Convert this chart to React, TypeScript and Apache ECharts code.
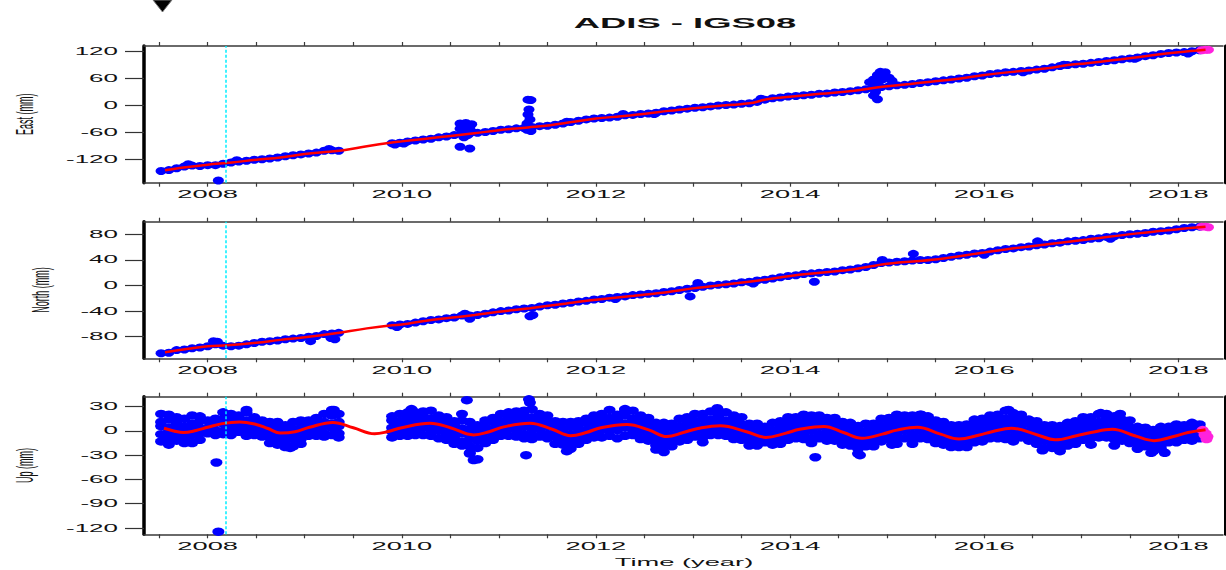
import React, { useEffect, useRef } from "react";
import * as echarts from "echarts";

const chartTitle = "ADIS - IGS08";
const xAxisName = "Time (year)";
const panelNames = ["East (mm)", "North (mm)", "Up (mm)"];

const yearTicks = [2007.5, 2008, 2008.5, 2009, 2009.5, 2010, 2010.5, 2011, 2011.5, 2012, 2012.5, 2013, 2013.5, 2014, 2014.5, 2015, 2015.5, 2016, 2016.5, 2017, 2017.5, 2018];
const yearLabels = [2008, 2010, 2012, 2014, 2016, 2018];
const eastTicks = [-120, -60, 0, 60, 120];
const northTicks = [-80, -40, 0, 40, 80];
const upTicks = [-120, -90, -60, -30, 0, 30];
const breakEpochs = [2008.19];

// East observations [year, mm]
const eastObs = [
  [2007.52, -146], [2007.60, -144], [2007.68, -140], [2007.76, -136], [2007.84, -134], [2007.92, -135],
  [2008.00, -133], [2008.08, -133], [2008.16, -130], [2008.24, -127], [2008.32, -125], [2008.40, -123],
  [2008.48, -121], [2008.56, -120], [2008.64, -118], [2008.72, -116], [2008.80, -113], [2008.88, -111],
  [2008.96, -109], [2009.04, -107], [2009.12, -105], [2009.20, -101], [2009.28, -100], [2009.35, -101],
  [2009.90, -84], [2009.98, -83], [2010.06, -80], [2010.14, -78], [2010.22, -76], [2010.30, -74],
  [2010.38, -71], [2010.46, -69], [2010.54, -66], [2010.62, -64], [2010.70, -62], [2010.78, -61],
  [2010.86, -59], [2010.94, -57], [2011.02, -54], [2011.10, -53], [2011.18, -51], [2011.26, -50],
  [2011.34, -48], [2011.42, -46], [2011.50, -45], [2011.58, -43], [2011.66, -40], [2011.74, -37],
  [2011.82, -34], [2011.90, -31], [2011.98, -29], [2012.06, -28], [2012.14, -27], [2012.22, -25],
  [2012.30, -22], [2012.38, -21], [2012.46, -19], [2012.54, -18], [2012.62, -16], [2012.70, -13],
  [2012.78, -11], [2012.86, -9], [2012.94, -7], [2013.02, -5], [2013.10, -4], [2013.18, -2],
  [2013.26, 0], [2013.34, 1], [2013.42, 2], [2013.50, 4], [2013.58, 5], [2013.66, 8],
  [2013.74, 13], [2013.82, 16], [2013.90, 18], [2013.98, 20], [2014.06, 21], [2014.14, 23],
  [2014.22, 24], [2014.30, 26], [2014.38, 27], [2014.46, 29], [2014.54, 30], [2014.62, 32],
  [2014.70, 34], [2014.78, 36], [2014.86, 39], [2014.94, 41], [2015.02, 43], [2015.10, 45],
  [2015.18, 46], [2015.26, 48], [2015.34, 50], [2015.42, 52], [2015.50, 54], [2015.58, 56],
  [2015.66, 58], [2015.74, 60], [2015.82, 62], [2015.90, 65], [2015.98, 67], [2016.06, 70],
  [2016.14, 72], [2016.22, 74], [2016.30, 75], [2016.38, 77], [2016.46, 78], [2016.54, 80],
  [2016.62, 82], [2016.70, 85], [2016.78, 88], [2016.86, 90], [2016.94, 92], [2017.02, 93],
  [2017.10, 95], [2017.18, 97], [2017.26, 99], [2017.34, 101], [2017.42, 103], [2017.50, 105],
  [2017.58, 107], [2017.66, 110], [2017.74, 112], [2017.82, 115], [2017.90, 117], [2017.98, 118],
  [2018.06, 119], [2018.14, 121], [2018.22, 123]
];
const eastOutliers = [
  [2008.11, -167], [2007.80, -131], [2008.30, -122], [2009.25, -97], [2009.93, -87], [2010.02, -85],
  [2010.60, -40], [2010.66, -39], [2010.72, -42], [2010.62, -46], [2010.70, -48], [2010.60, -52],
  [2010.66, -55], [2010.72, -58], [2010.62, -62], [2010.68, -66], [2010.64, -71], [2010.60, -92],
  [2010.70, -96],
  [2011.30, 13], [2011.33, 12], [2011.31, -9], [2011.30, -20], [2011.32, -31], [2011.29, -40],
  [2011.33, -57], [2011.29, -54], [2011.70, -36], [2012.28, -19], [2012.60, -19], [2013.70, 15],
  [2014.93, 75], [2014.98, 74], [2014.90, 68], [2014.97, 66], [2015.02, 62], [2014.86, 58],
  [2014.95, 58], [2015.05, 55], [2014.82, 52], [2014.90, 50], [2014.88, 30], [2014.86, 22], [2014.90, 14],
  [2016.40, 74], [2016.82, 91], [2017.55, 104], [2018.10, 116]
];
const eastEnd = [[2018.24, 123], [2018.28, 124], [2018.31, 124]];
const eastModel = [
  [2007.56, -144.5], [2007.75, -138], [2008.00, -132], [2008.25, -127], [2008.50, -121], [2008.75, -116],
  [2009.00, -108], [2009.25, -103], [2009.40, -100], [2009.64, -91], [2009.88, -83], [2010.00, -80],
  [2010.25, -74], [2010.50, -68], [2010.75, -62], [2011.00, -55], [2011.30, -49], [2011.53, -44],
  [2011.75, -37], [2012.00, -29], [2012.26, -24], [2012.51, -18.5], [2012.75, -12], [2013.01, -6],
  [2013.25, -1], [2013.49, 3], [2013.62, 6], [2013.76, 14], [2014.00, 19.5], [2014.31, 26],
  [2014.66, 33], [2014.91, 40.5], [2015.24, 48], [2015.45, 53], [2015.69, 58.5], [2016.00, 68],
  [2016.38, 77], [2016.65, 83], [2016.86, 90], [2017.06, 94], [2017.41, 103], [2017.75, 112.5],
  [2018.00, 118.5], [2018.28, 124]
];

// North observations [year, mm]
const northObs = [
  [2007.52, -106], [2007.60, -105], [2007.68, -101], [2007.76, -100], [2007.84, -98], [2007.92, -97],
  [2008.00, -95], [2008.08, -92], [2008.16, -94], [2008.24, -95], [2008.32, -94], [2008.40, -92],
  [2008.48, -90], [2008.56, -88], [2008.64, -87], [2008.72, -86], [2008.80, -84], [2008.88, -83],
  [2008.96, -82], [2009.04, -80], [2009.12, -79], [2009.20, -76], [2009.28, -75], [2009.35, -74],
  [2009.90, -62], [2009.98, -61], [2010.06, -60], [2010.14, -58], [2010.22, -56], [2010.30, -54],
  [2010.38, -53], [2010.46, -51], [2010.54, -50], [2010.62, -47], [2010.70, -47], [2010.78, -46],
  [2010.86, -44], [2010.94, -42], [2011.02, -40], [2011.10, -39], [2011.18, -37], [2011.26, -36],
  [2011.34, -35], [2011.42, -33], [2011.50, -31], [2011.58, -30], [2011.66, -28], [2011.74, -27],
  [2011.82, -25], [2011.90, -24], [2011.98, -22], [2012.06, -21], [2012.14, -19], [2012.22, -18],
  [2012.30, -17], [2012.38, -15], [2012.46, -14], [2012.54, -13], [2012.62, -12], [2012.70, -10],
  [2012.78, -9], [2012.86, -7], [2012.94, -5], [2013.02, -4], [2013.10, -2], [2013.18, 0],
  [2013.26, 1], [2013.34, 2], [2013.42, 3], [2013.50, 5], [2013.58, 6], [2013.66, 8],
  [2013.74, 9], [2013.82, 11], [2013.90, 13], [2013.98, 15], [2014.06, 16], [2014.14, 18],
  [2014.22, 19], [2014.30, 20], [2014.38, 21], [2014.46, 22], [2014.54, 24], [2014.62, 25],
  [2014.70, 27], [2014.78, 29], [2014.86, 32], [2014.94, 35], [2015.02, 36], [2015.10, 37],
  [2015.18, 38], [2015.26, 39], [2015.34, 40], [2015.42, 40], [2015.50, 41], [2015.58, 43],
  [2015.66, 45], [2015.74, 47], [2015.82, 48], [2015.90, 50], [2015.98, 51], [2016.06, 53],
  [2016.14, 55], [2016.22, 57], [2016.30, 58], [2016.38, 60], [2016.46, 61], [2016.54, 63],
  [2016.62, 64], [2016.70, 66], [2016.78, 67], [2016.86, 69], [2016.94, 70], [2017.02, 71],
  [2017.10, 73], [2017.18, 74], [2017.26, 76], [2017.34, 77], [2017.42, 79], [2017.50, 80],
  [2017.58, 81], [2017.66, 82], [2017.74, 84], [2017.82, 85], [2017.90, 86], [2017.98, 88],
  [2018.06, 90], [2018.14, 91], [2018.22, 92]
];
const northOutliers = [
  [2008.06, -87], [2008.10, -88], [2009.06, -87], [2009.27, -82], [2009.31, -84], [2009.95, -65],
  [2010.65, -44], [2010.70, -52], [2011.32, -48], [2011.35, -46], [2012.97, -17], [2013.05, 4],
  [2014.25, 6], [2014.95, 40], [2015.27, 49.5], [2016.55, 69], [2012.20, -21], [2013.62, 3],
  [2016.00, 48], [2017.30, 73]
];
const northEnd = [[2018.24, 92], [2018.28, 92], [2018.31, 91]];
const northModel = [
  [2007.56, -104.5], [2007.80, -99], [2008.00, -95], [2008.20, -93.5], [2008.50, -89.5], [2008.75, -85],
  [2009.00, -81], [2009.30, -75], [2009.64, -67], [2009.90, -62], [2010.00, -61], [2010.25, -55],
  [2010.50, -50.5], [2010.75, -46], [2011.00, -41], [2011.32, -35.5], [2011.70, -28], [2012.00, -22.4],
  [2012.39, -16], [2012.73, -10.4], [2013.00, -4.5], [2013.42, 3], [2013.76, 9.5], [2014.00, 15],
  [2014.31, 20], [2014.66, 25.5], [2015.00, 34], [2015.52, 41], [2016.00, 51.6], [2016.38, 59.5],
  [2017.06, 72], [2017.58, 81.5], [2018.00, 88], [2018.28, 92]
];

// Up observations: [year, values...] (several daily solutions grouped per epoch)
const upObs = [
  [2007.52, 21, 11, 6, -4, -13], [2007.60, 20, 14, 4, -1, -9, -17], [2007.68, 17, 9, 3, -7, -12],
  [2007.76, 15, 5, -1, -10, -15], [2007.84, 19, 9, 3, -5, -15], [2007.92, 18, 12, 3, -3, -11],
  [2008.00, 13, 4, -3], [2008.08, 15, 10, 1, -5], [2008.16, 23, 14, 9, 0, -4],
  [2008.24, 21, 16, 7, 2, -5], [2008.32, 19, 12, 7, -1], [2008.40, 23, 13, 8, 1, -6],
  [2008.48, 17, 8, 3, -5], [2008.56, 13, 8, -1, -7], [2008.64, 11, 6, -3, -8, -15],
  [2008.72, 11, 2, -3, -12, -17], [2008.80, 7, 2, -7, -12, -20], [2008.88, 11, 2, -5, -10, -19],
  [2008.96, 13, 4, -1, -10, -16], [2009.04, 13, 8, -1, -6], [2009.12, 16, 7, 2, -6],
  [2009.20, 21, 11, 6, -3, -7], [2009.28, 26, 19, 9, 4, -5], [2009.35, 21, 11, 6, -3, -8],
  [2009.90, 18, 13, 4, -1, -8], [2009.98, 21, 12, 7, -2, -6], [2010.06, 23, 17, 8, 3, -6],
  [2010.14, 23, 14, 9, 0, -5], [2010.22, 24, 18, 9, 4, -5], [2010.30, 25, 15, 10, 1, -6],
  [2010.38, 19, 14, 5, 0, -9], [2010.46, 17, 8, 3, -6, -11], [2010.54, 12, 7, -2, -7, -16],
  [2010.62, 21, 13, 3, -3, -13, -18], [2010.70, 11, 2, -5, -10, -19, -27], [2010.78, 7, 2, -7, -12, -21, -35],
  [2010.86, 13, 4, -1, -10, -15], [2010.94, 16, 11, 2, -3, -11], [2011.02, 21, 12, 7, -2, -6],
  [2011.10, 23, 17, 8, 3, -6], [2011.18, 24, 15, 10, 1, -7], [2011.26, 25, 19, 10, 5, -4, -9],
  [2011.34, 27, 17, 12, 3, -5, -10], [2011.42, 21, 16, 7, 2, -7], [2011.50, 19, 10, 5, -4, -9],
  [2011.58, 12, 7, -2, -7, -16], [2011.66, 11, 2, -3, -12, -17], [2011.74, 11, 5, -4, -9, -18, -22],
  [2011.82, 12, 3, -2, -11, -16], [2011.90, 15, 10, 1, -6, -11], [2011.98, 19, 10, 5, -4, -8],
  [2012.06, 21, 15, 6, 1, -8], [2012.14, 26, 16, 11, 2, -6], [2012.22, 20, 15, 6, 1, -9],
  [2012.30, 26, 19, 9, 4, -6], [2012.38, 25, 15, 10, 1, -5], [2012.46, 19, 13, 4, -1, -10],
  [2012.54, 16, 7, 2, -7, -12], [2012.62, 10, 5, -4, -9, -18, -23], [2012.70, 10, 1, -4, -13, -18, -26],
  [2012.78, 9, 4, -5, -10, -19], [2012.86, 15, 6, 1, -8, -13], [2012.94, 17, 12, 3, -4, -11],
  [2013.02, 21, 12, 7, -2, -7], [2013.10, 21, 15, 6, 1, -8], [2013.18, 24, 14, 9, 0, -5],
  [2013.26, 25, 18, 9, 4, -5], [2013.34, 23, 13, 8, -1, -6], [2013.42, 19, 13, 4, -1, -10],
  [2013.50, 17, 8, 3, -6, -11], [2013.58, 9, 4, -5, -10, -18], [2013.66, 9, 0, -5, -14, -18],
  [2013.74, 5, 0, -9, -14], [2013.82, 10, 1, -4, -13, -17], [2013.90, 12, 7, -2, -7, -16],
  [2013.98, 17, 8, 3, -6, -11], [2014.06, 17, 12, 3, -4, -9], [2014.14, 20, 11, 6, -3, -10],
  [2014.22, 19, 14, 5, 0, -9, -15], [2014.30, 19, 10, 5, -4, -9], [2014.38, 16, 11, 2, -3, -12],
  [2014.46, 16, 7, 2, -7, -12], [2014.54, 11, 6, -3, -8, -17], [2014.62, 10, 1, -4, -13, -18],
  [2014.70, 6, 1, -8, -13, -22, -28], [2014.78, 9, 0, -5, -14, -19], [2014.86, 9, 4, -5, -10, -19],
  [2014.94, 15, 6, 1, -8, -13], [2015.02, 16, 11, 2, -5, -10], [2015.10, 20, 11, 6, -3, -8, -16],
  [2015.18, 19, 14, 5, 0, -9], [2015.26, 19, 10, 5, -4, -9, -16], [2015.34, 20, 14, 5, 0, -9],
  [2015.42, 18, 9, 4, -5, -10], [2015.50, 13, 8, -1, -6, -15], [2015.58, 11, 2, -3, -12, -17],
  [2015.66, 7, 2, -7, -12, -20], [2015.74, 7, -2, -7, -16, -20], [2015.82, 8, 3, -6, -11, -20],
  [2015.90, 14, 5, 0, -9, -14], [2015.98, 15, 10, 1, -6, -13], [2016.06, 19, 10, 5, -4, -9],
  [2016.14, 20, 14, 5, 0, -9], [2016.22, 25, 15, 10, 1, -6, -10], [2016.30, 22, 16, 7, 2, -7, -13],
  [2016.38, 20, 11, 6, -3, -8], [2016.46, 14, 9, 0, -7, -12], [2016.54, 12, 3, -2, -11, -16],
  [2016.62, 7, 2, -7, -12, -21], [2016.70, 7, -2, -7, -16, -21], [2016.78, 6, 1, -8, -13, -22, -25],
  [2016.86, 10, 1, -4, -13, -18], [2016.94, 12, 7, -2, -7, -16], [2017.02, 17, 8, 3, -6, -11],
  [2017.10, 17, 12, 3, -4, -9, -17], [2017.18, 21, 11, 6, -3, -8], [2017.26, 21, 15, 6, 1, -8],
  [2017.34, 18, 9, 4, -5, -10, -18], [2017.42, 14, 9, 0, -7, -12], [2017.50, 13, 4, -1, -10, -15],
  [2017.58, 5, 0, -9, -14, -22], [2017.66, 4, -5, -10, -19], [2017.74, 1, -4, -13, -18, -25],
  [2017.82, 5, -4, -9, -18, -22], [2017.90, 5, 0, -9, -14], [2017.98, 8, -1, -6, -14],
  [2018.06, 7, 2, -7, -11], [2018.14, 10, 1, -4, -12], [2018.22, 8, 4, -5, -9]
];
const upOutliers = [
  [2008.09, -39], [2008.11, -124.5], [2008.40, 26], [2010.67, 38], [2010.70, -28], [2010.74, -36],
  [2011.31, 39], [2011.32, 35], [2011.28, -30], [2012.30, 27], [2014.26, -32.5], [2014.72, -30],
  [2015.35, 20], [2016.25, 26], [2017.20, 22], [2017.72, -27], [2009.30, 26], [2008.85, -21],
  [2010.10, 27], [2011.70, -25], [2013.25, 28], [2013.10, -14], [2015.05, -17], [2016.60, -24],
  [2017.40, 21], [2017.86, -27]
];
const upEnd = [[2018.25, 1], [2018.28, -3], [2018.30, -7], [2018.29, -10], [2018.27, -5]];
const upModel = [
  [2007.55, 3.3], [2007.65, 0], [2007.75, -2], [2007.88, 0.5], [2008.00, 4.5], [2008.15, 9],
  [2008.33, 11], [2008.50, 8], [2008.62, 3], [2008.75, -2.5], [2008.90, -1], [2009.05, 4.5],
  [2009.29, 10.5], [2009.50, 4], [2009.72, -3.5], [2009.85, -1], [2010.00, 4], [2010.29, 9.5],
  [2010.50, 4], [2010.74, -5], [2010.90, -1], [2011.05, 5], [2011.32, 9.5], [2011.55, 2],
  [2011.74, -6], [2011.90, -2], [2012.05, 4], [2012.32, 8], [2012.55, 1], [2012.73, -7],
  [2012.90, -2], [2013.05, 3], [2013.28, 6.5], [2013.55, -1], [2013.75, -8], [2013.95, -3],
  [2014.10, 2], [2014.35, 5.5], [2014.55, -2], [2014.74, -9], [2014.95, -4], [2015.10, 1],
  [2015.31, 4.5], [2015.55, -4], [2015.74, -10], [2015.95, -5], [2016.08, -1], [2016.28, 3.3],
  [2016.55, -5], [2016.73, -11], [2016.95, -6], [2017.10, -2], [2017.32, 2], [2017.55, -6],
  [2017.75, -12], [2017.95, -7], [2018.10, -2], [2018.28, 1.5]
];

const X_MIN = 2007.344;
const X_MAX = 2018.46;
const FONT = "'Liberation Sans', Arial, Helvetica, sans-serif";
const STRETCH = 2.6;

const panels = [
  { top: 46, height: 136.7, min: -172.1, max: 132.6, ticks: eastTicks, obs: eastObs.concat(eastOutliers), end: eastEnd, model: eastModel, name: panelNames[0], nameX: 25.5, dot: [11, 8], lw: 2.5 },
  { top: 221.7, height: 136.6, min: -113.8, max: 99.75, ticks: northTicks, obs: northObs.concat(northOutliers), end: northEnd, model: northModel, name: panelNames[1], nameX: 41.5, dot: [11, 8], lw: 2.5 },
  { top: 396.7, height: 137.6, min: -127.8, max: 42.3, ticks: upTicks, obs: upObs.flatMap(([t, ...vs]) => vs.map((v) => [t, v])).concat(upOutliers), end: upEnd, model: upModel, name: panelNames[2], nameX: 25.5, dot: [12, 8.5], lw: 3 },
];

export default function App() {
  const ref = useRef<HTMLDivElement>(null);
  useEffect(() => {
    if (!ref.current) return;
    const chart = echarts.init(ref.current, null, { renderer: "svg" });
    const grid: any[] = [];
    const xAxis: any[] = [];
    const yAxis: any[] = [];
    const series: any[] = [];
    panels.forEach((p, i) => {
      grid.push({ left: 144, right: 3, top: p.top, height: p.height });
      ["bottom", "top"].forEach((pos) => {
        xAxis.push({
          type: "value", gridIndex: i, position: pos, min: X_MIN, max: X_MAX,
          axisLine: { show: true, onZero: false, lineStyle: { color: "#3a3a3a", width: 1.5 } },
          axisTick: { show: true, inside: false, length: 4, customValues: yearTicks, lineStyle: { color: "#3a3a3a", width: 1.2 } },
          axisLabel: { show: false },
          splitLine: { show: false },
        });
      });
      yAxis.push({
        type: "value", gridIndex: i, position: "left", min: p.min, max: p.max,
        axisLine: { show: true, onZero: false, lineStyle: { color: "#000", width: 3.5 } },
        axisTick: { show: true, inside: false, length: 19, customValues: p.ticks, lineStyle: { color: "#333", width: 1.2 } },
        axisLabel: { show: false },
        splitLine: { show: false },
      });
      yAxis.push({
        type: "value", gridIndex: i, position: "right", offset: 2, min: p.min, max: p.max,
        axisLine: { show: true, onZero: false, lineStyle: { color: "#000", width: 3 } },
        axisTick: { show: false }, axisLabel: { show: false }, splitLine: { show: false },
      });
      series.push({
        type: "scatter", xAxisIndex: 2 * i, yAxisIndex: 2 * i, data: p.obs,
        symbol: "circle", symbolSize: p.dot, itemStyle: { color: "#0000ff", opacity: 1 }, silent: true,
      });
      series.push({
        type: "line", xAxisIndex: 2 * i, yAxisIndex: 2 * i, data: p.model, smooth: 0.4,
        showSymbol: false, symbol: "none", lineStyle: { color: "#ff0000", width: p.lw }, silent: true,
      });
      series.push({
        type: "scatter", xAxisIndex: 2 * i, yAxisIndex: 2 * i, data: p.end,
        symbol: "circle", symbolSize: p.dot, itemStyle: { color: "#ff22dd", opacity: 1 }, silent: true,
        markLine: {
          silent: true, symbol: ["none", "none"], label: { show: false },
          lineStyle: { color: "#00eeff", type: [3, 2], width: 1.5 },
          data: breakEpochs.map((t) => ({ xAxis: t })),
        },
      });
    });
    chart.setOption({ animation: false, backgroundColor: "#fff", grid, xAxis, yAxis, series });

    const g: any[] = [];
    const txt = (text: string, x: number, y: number, opts: any = {}) => ({
      type: "text", x, y, scaleX: opts.scaleX ?? STRETCH, scaleY: opts.scaleY ?? 1, rotation: opts.rotation ?? 0,
      silent: true,
      style: {
        text, fontSize: opts.fontSize ?? 10, fontFamily: FONT, fontWeight: opts.fontWeight ?? "normal",
        fill: "#111", align: opts.align ?? "center", verticalAlign: "middle",
        textAlign: opts.align ?? "center", textVerticalAlign: "middle",
      },
    });
    panels.forEach((p, i) => {
      const s = 3 * i;
      yearLabels.forEach((yr) => {
        const pt = chart.convertToPixel({ seriesIndex: s }, [yr, p.min]) as number[];
        g.push(txt(String(yr), pt[0], pt[1] + 11.5, { fontSize: 10.5 }));
      });
      p.ticks.forEach((v) => {
        const pt = chart.convertToPixel({ seriesIndex: s }, [X_MIN, v]) as number[];
        g.push(txt(String(v), pt[0] - 26, pt[1], { align: "right", fontSize: 10 }));
      });
      g.push(txt(p.name, p.nameX, p.top + p.height / 2, { rotation: Math.PI / 2, scaleX: 1, scaleY: STRETCH, fontSize: 9 }));
    });
    g.push(txt(chartTitle, 685, 23, { fontSize: 14, fontWeight: "bold" }));
    g.push(txt(xAxisName, 684, 562.5, { fontSize: 10.5 }));
    g.push({
      type: "polygon", silent: true,
      shape: { points: [[153, 0], [172, 0], [162.5, 12]] },
      style: { fill: "#000", stroke: "#777", lineWidth: 1 },
    });
    chart.setOption({ graphic: g });
    return () => chart.dispose();
  }, []);
  return <div ref={ref} style={{ position: "fixed", left: 0, top: 0, width: 1226, height: 570, background: "#fff" }} />;
}
